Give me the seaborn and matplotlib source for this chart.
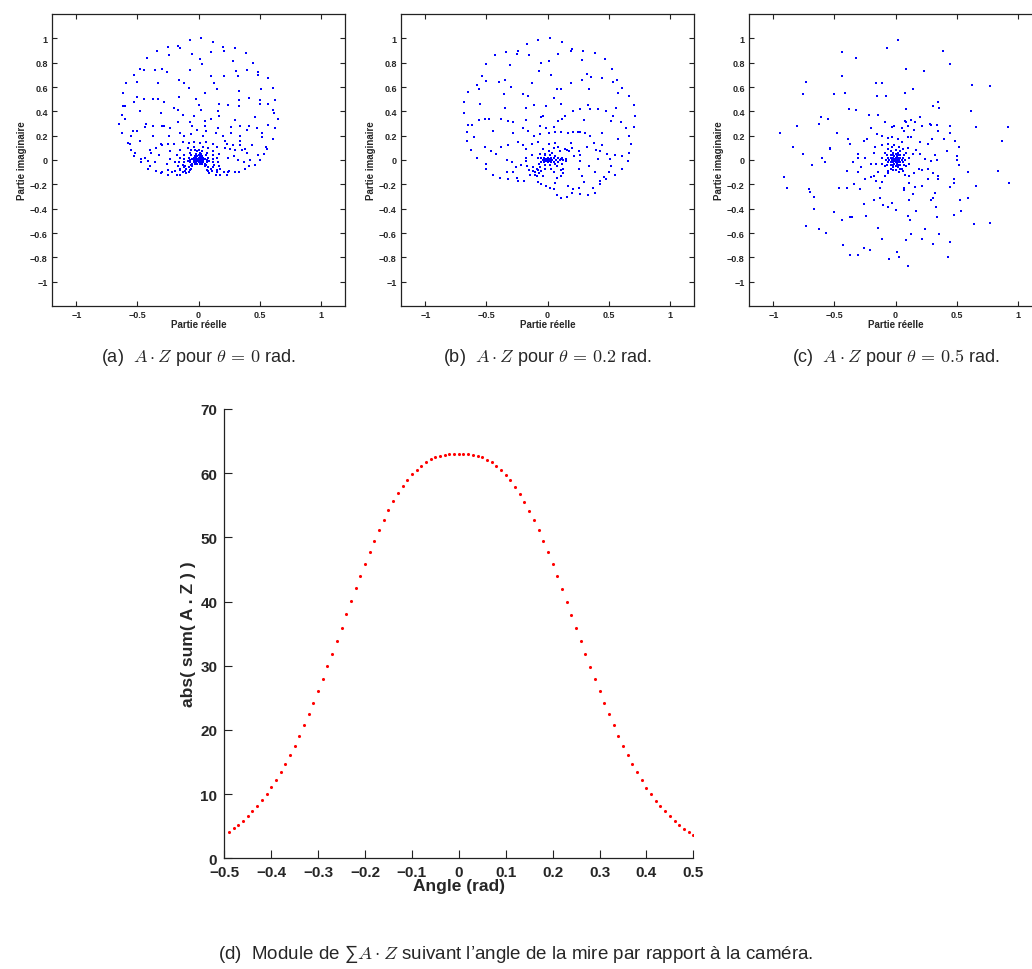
import numpy as np
import matplotlib
matplotlib.use("Agg")
import matplotlib.pyplot as plt
import seaborn as sns

# ── DATA ────────────────────────────────────────────────────
# (a) A.Z for theta = 0 rad  (real, imaginary) read off the picture
points_a = [
    (-0.07, 0.99), (0.02, 1.00), (0.12, 0.97), (-0.25, 0.93), (-0.17, 0.94), (-0.15, 0.92),
    (0.20, 0.93), (0.21, 0.90), (0.30, 0.92), (-0.34, 0.90), (0.10, 0.89), (-0.05, 0.87),
    (0.39, 0.88), (-0.24, 0.86), (-0.42, 0.84), (0.01, 0.83), (0.03, 0.79), (0.28, 0.81),
    (0.45, 0.80), (-0.48, 0.75), (-0.45, 0.74), (-0.36, 0.74), (-0.30, 0.75), (-0.26, 0.72),
    (-0.07, 0.74), (0.31, 0.73), (0.40, 0.74), (0.49, 0.72), (0.49, 0.70), (-0.53, 0.70),
    (0.10, 0.69), (0.21, 0.69), (0.32, 0.69), (0.57, 0.67), (-0.16, 0.66), (-0.12, 0.63),
    (0.13, 0.63), (-0.59, 0.63), (-0.50, 0.64), (-0.33, 0.63), (-0.08, 0.59), (0.15, 0.58),
    (0.51, 0.58), (0.61, 0.59), (0.33, 0.57), (-0.62, 0.55), (0.05, 0.55), (-0.50, 0.52),
    (-0.16, 0.52), (-0.45, 0.50), (-0.37, 0.50), (-0.33, 0.50), (-0.02, 0.50), (0.41, 0.51),
    (0.50, 0.49), (0.63, 0.49), (-0.53, 0.48), (-0.28, 0.48), (0.33, 0.49), (0.17, 0.46),
    (0.24, 0.45), (0.33, 0.44), (0.50, 0.46), (0.57, 0.46), (-0.62, 0.44), (-0.60, 0.44),
    (-0.20, 0.43), (-0.17, 0.41), (0.00, 0.45), (-0.48, 0.40), (0.02, 0.41), (0.16, 0.40),
    (0.61, 0.41), (0.62, 0.39), (-0.31, 0.39), (-0.13, 0.37), (-0.63, 0.37), (-0.04, 0.36),
    (0.17, 0.36), (-0.60, 0.34), (0.10, 0.34), (0.30, 0.33), (0.46, 0.35), (0.65, 0.34),
    (-0.07, 0.31), (0.05, 0.32), (-0.65, 0.30), (-0.43, 0.30), (-0.37, 0.28), (-0.30, 0.28),
    (-0.28, 0.28), (-0.17, 0.31), (-0.05, 0.28), (0.05, 0.28), (0.27, 0.27), (0.34, 0.28),
    (0.41, 0.28), (0.57, 0.29), (-0.44, 0.27), (-0.23, 0.26), (0.16, 0.26), (0.48, 0.26),
    (0.63, 0.26), (-0.63, 0.22), (-0.54, 0.24), (-0.50, 0.24), (-0.37, 0.20), (-0.24, 0.20),
    (-0.15, 0.22), (-0.12, 0.20), (-0.06, 0.21), (-0.01, 0.25), (0.04, 0.20), (0.06, 0.24),
    (0.14, 0.22), (0.20, 0.20), (0.27, 0.22), (0.34, 0.20), (0.40, 0.25), (0.52, 0.22),
    (0.52, 0.19), (0.61, 0.17), (-0.55, 0.20), (-0.48, 0.16), (-0.58, 0.14), (-0.56, 0.13),
    (-0.31, 0.13), (-0.30, 0.12), (-0.25, 0.13), (-0.20, 0.13), (-0.13, 0.15), (-0.08, 0.14),
    (-0.04, 0.15), (0.01, 0.14), (0.06, 0.15), (0.12, 0.13), (0.15, 0.11), (0.22, 0.16),
    (0.23, 0.13), (0.28, 0.12), (0.34, 0.16), (0.34, 0.12), (0.44, 0.12), (0.55, 0.11),
    (0.56, 0.09), (-0.55, 0.08), (-0.40, 0.08), (-0.35, 0.10), (-0.39, 0.06), (-0.32, 0.04),
    (-0.23, 0.07), (-0.15, 0.08), (-0.09, 0.10), (-0.06, 0.08), (0.08, 0.10), (0.12, 0.07),
    (0.17, 0.05), (0.22, 0.10), (0.26, 0.09), (0.30, 0.08), (0.36, 0.08), (0.38, 0.09),
    (0.40, 0.06), (0.49, 0.04), (0.54, 0.05), (-0.52, 0.06), (-0.53, 0.03), (-0.47, -0.02),
    (-0.44, 0.02), (-0.41, -0.01), (-0.36, -0.02), (-0.23, 0.01), (-0.26, -0.03), (-0.18, 0.04),
    (-0.19, -0.02), (0.24, 0.02), (0.29, 0.03), (0.32, 0.00), (0.37, -0.02), (0.42, 0.00),
    (0.50, 0.00), (-0.41, -0.07), (-0.35, -0.09), (-0.30, -0.10), (-0.25, -0.08), (-0.22, -0.10),
    (-0.19, -0.09), (-0.15, -0.07), (-0.11, -0.05), (-0.08, -0.10), (-0.06, -0.07), (0.08, -0.09),
    (0.12, -0.06), (0.15, -0.10), (0.18, -0.07), (0.21, -0.10), (0.25, -0.09), (0.30, -0.10),
    (0.33, -0.10), (0.38, -0.07), (0.41, -0.05), (0.46, -0.04), (-0.31, -0.11), (-0.25, -0.12),
    (-0.18, -0.12), (-0.15, -0.12), (-0.13, -0.10), (-0.10, -0.11), (0.09, -0.11), (0.14, -0.12),
    (0.18, -0.12), (0.23, -0.12), (0.24, -0.10), (-0.40, -0.05), (-0.47, 0.01),
    # heart-shaped lobes and the dense core
    (-0.06, -0.04), (-0.08, -0.06), (-0.10, -0.07), (-0.12, -0.06), (-0.13, -0.04), (-0.12, -0.02),
    (-0.09, -0.01), (-0.07, 0.00), (-0.05, -0.05), (-0.07, -0.08), (-0.11, -0.09), (-0.15, -0.08),
    (-0.17, -0.05), (-0.16, -0.02), (-0.12, 0.01), (-0.08, 0.02), (0.06, -0.04), (0.08, -0.06),
    (0.10, -0.07), (0.12, -0.06), (0.13, -0.04), (0.12, -0.02), (0.09, -0.01), (0.07, 0.00),
    (0.05, -0.05), (0.07, -0.08), (0.11, -0.09), (0.15, -0.08), (0.17, -0.05), (0.16, -0.02),
    (0.12, 0.01), (0.08, 0.02), (-0.07, 0.06), (0.07, 0.06), (-0.12, 0.04), (0.12, 0.04),
    (-0.04, 0.11), (0.04, 0.11), (-0.15, 0.02), (0.15, 0.02),
    (0.00, 0.00), (0.01, 0.01), (-0.01, 0.01), (0.01, -0.01), (-0.01, -0.01), (0.02, 0.00),
    (-0.02, 0.00), (0.00, 0.02), (0.00, -0.02), (0.02, 0.02), (-0.02, 0.02), (0.02, -0.02),
    (-0.02, -0.02), (0.03, 0.01), (-0.03, 0.01), (0.03, -0.01), (-0.03, -0.01), (0.01, 0.03),
    (-0.01, 0.03), (0.01, -0.03), (-0.01, -0.03), (0.04, 0.00), (-0.04, 0.00), (0.00, 0.04),
    (0.03, 0.03), (-0.03, 0.03), (0.03, -0.03), (-0.03, -0.03), (0.04, 0.02), (-0.04, 0.02),
    (0.04, -0.02), (-0.04, -0.02), (0.05, 0.01), (-0.05, 0.01), (0.02, 0.05), (-0.02, 0.05),
    (0.05, -0.03), (-0.05, -0.03), (0.01, 0.06), (-0.01, 0.07), (0.06, 0.04), (-0.06, 0.04),
    (0.07, -0.02), (-0.07, -0.02), (0.00, 0.08), (0.03, 0.07), (-0.03, 0.08),
]

# (b) A.Z for theta = 0.2 rad
points_b = [
    (-0.08, 0.99), (0.02, 1.00), (0.12, 0.97), (-0.17, 0.95), (-0.34, 0.89), (-0.24, 0.90),
    (-0.25, 0.87), (-0.15, 0.86), (-0.43, 0.86), (0.09, 0.87), (0.19, 0.90), (0.20, 0.91),
    (0.29, 0.90), (0.39, 0.88), (-0.50, 0.79), (-0.31, 0.78), (-0.05, 0.80), (0.01, 0.81),
    (0.28, 0.82), (0.47, 0.83), (0.53, 0.75), (-0.54, 0.69), (-0.50, 0.65), (-0.40, 0.64),
    (-0.35, 0.66), (-0.07, 0.73), (0.03, 0.70), (0.28, 0.66), (0.32, 0.71), (0.36, 0.68),
    (0.45, 0.67), (0.54, 0.64), (0.57, 0.66), (-0.58, 0.62), (-0.30, 0.60), (-0.13, 0.63),
    (0.19, 0.63), (0.61, 0.59), (-0.65, 0.56), (-0.56, 0.58), (0.08, 0.58), (0.11, 0.58),
    (0.34, 0.58), (0.58, 0.55), (-0.36, 0.54), (-0.20, 0.54), (-0.16, 0.53), (0.05, 0.51),
    (0.67, 0.53), (-0.68, 0.48), (-0.55, 0.46), (-0.11, 0.45), (0.11, 0.46), (0.33, 0.45),
    (0.56, 0.43), (0.71, 0.45), (-0.35, 0.43), (-0.18, 0.43), (-0.01, 0.44), (0.21, 0.40),
    (0.27, 0.42), (0.35, 0.42), (0.41, 0.42), (0.48, 0.40), (-0.68, 0.39), (0.72, 0.36),
    (-0.56, 0.33), (-0.51, 0.34), (-0.48, 0.34), (-0.38, 0.34), (-0.32, 0.32), (-0.28, 0.31),
    (-0.18, 0.33), (-0.05, 0.35), (-0.04, 0.36), (0.09, 0.32), (0.12, 0.34), (0.14, 0.36),
    (0.30, 0.33), (0.52, 0.32), (0.54, 0.36), (0.60, 0.31), (-0.65, 0.29), (-0.62, 0.29),
    (-0.20, 0.26), (-0.06, 0.28), (-0.01, 0.26), (0.05, 0.27), (0.71, 0.27), (0.64, 0.26),
    (-0.66, 0.23), (-0.60, 0.19), (-0.45, 0.24), (-0.28, 0.22), (-0.16, 0.24), (-0.11, 0.20),
    (-0.06, 0.21), (0.01, 0.22), (0.06, 0.23), (0.11, 0.23), (0.17, 0.22), (0.21, 0.23),
    (0.25, 0.23), (0.27, 0.23), (0.31, 0.22), (0.35, 0.20), (0.45, 0.22), (0.58, 0.17),
    (0.67, 0.20), (0.68, 0.13), (0.67, 0.06), (0.66, -0.01), (0.61, -0.07), (0.55, -0.12),
    (0.48, -0.16), (0.43, -0.20), (0.39, -0.27), (0.33, -0.29), (0.27, -0.28), (0.20, -0.27),
    (0.16, -0.30), (0.11, -0.31), (0.08, -0.29), (0.05, -0.24), (0.02, -0.23), (-0.01, -0.21),
    (-0.05, -0.20), (-0.08, -0.18), (-0.66, 0.16), (-0.63, 0.08), (-0.58, 0.02), (-0.50, -0.03),
    (-0.50, -0.07), (-0.45, -0.12), (-0.39, -0.15), (-0.32, -0.16), (-0.24, -0.17), (-0.19, -0.17),
    (-0.51, 0.11), (-0.46, 0.07), (-0.42, 0.05), (-0.33, 0.00), (-0.29, -0.02), (-0.26, -0.06),
    (-0.22, -0.04), (-0.33, -0.10), (-0.28, -0.10), (-0.25, -0.15), (-0.38, 0.11), (-0.32, 0.12),
    (-0.24, 0.15), (-0.20, 0.12), (-0.18, 0.09), (-0.13, 0.13), (-0.08, 0.15), (-0.04, 0.09),
    (0.01, 0.13), (0.06, 0.14), (0.09, 0.11), (0.14, 0.09), (0.19, 0.14), (0.20, 0.10),
    (0.26, 0.07), (0.27, 0.04), (0.32, 0.11), (0.38, 0.14), (0.40, 0.08), (0.43, 0.07),
    (0.45, 0.12), (0.49, 0.05), (0.51, 0.01), (0.52, -0.05), (0.50, -0.10), (0.46, -0.14),
    (0.43, -0.17), (0.37, -0.23), (0.30, -0.18), (0.28, -0.13), (0.26, -0.07), (0.27, -0.01),
    (0.22, 0.03), (0.18, 0.07), (0.16, 0.08), (0.10, 0.07), (0.05, 0.10), (0.01, 0.07),
    (-0.02, 0.05), (-0.13, 0.04), (-0.18, 0.02), (-0.18, -0.01), (-0.17, -0.05), (-0.09, -0.07),
    (0.11, 0.01), (0.15, -0.01), (0.13, -0.07), (0.11, -0.13), (0.08, -0.15), (0.06, -0.19),
    (0.17, -0.21), (0.21, -0.24), (0.26, -0.23), (0.34, -0.05), (0.39, -0.10), (0.41, 0.01),
    (0.61, 0.03), (0.55, 0.04),
    # dense core with its loop
    (0.00, 0.00), (0.01, 0.01), (-0.01, 0.01), (0.01, -0.01), (-0.01, -0.01), (0.02, 0.00),
    (-0.02, 0.00), (0.00, 0.02), (0.00, -0.02), (0.03, 0.02), (-0.03, 0.02), (0.03, -0.02),
    (-0.03, -0.02), (0.04, 0.00), (-0.04, 0.00), (0.02, 0.04), (-0.02, 0.04), (0.02, -0.04),
    (-0.02, -0.04), (0.05, 0.02), (-0.05, 0.02), (0.05, -0.02), (-0.05, -0.02), (0.06, 0.03),
    (0.07, 0.00), (0.06, -0.03), (0.09, 0.02), (0.10, 0.00), (0.09, -0.02), (0.12, 0.02),
    (0.13, 0.00), (0.12, -0.03), (0.15, 0.01), (-0.06, -0.06), (-0.08, -0.08), (-0.10, -0.10),
    (-0.12, -0.09), (-0.10, -0.12), (-0.07, -0.11), (-0.12, -0.06), (-0.09, -0.13), (-0.05, -0.09),
    (-0.04, -0.13), (-0.02, -0.07), (0.03, -0.07), (0.05, -0.10), (0.08, -0.05), (0.11, -0.08),
    (0.13, -0.11), (-0.15, -0.08), (-0.14, -0.12), (-0.06, 0.05), (0.04, 0.06), (-0.08, 0.02),
    (-0.07, -0.03),
]

# (c) A.Z for theta = 0.5 rad
points_c = [
    (0.02, 0.99), (-0.07, 0.92), (-0.44, 0.89), (-0.32, 0.84), (0.39, 0.90), (0.45, 0.79),
    (0.09, 0.75), (0.23, 0.73), (-0.44, 0.69), (-0.73, 0.64), (-0.16, 0.63), (-0.11, 0.63),
    (0.63, 0.62), (0.77, 0.61), (-0.76, 0.54), (-0.50, 0.54), (-0.41, 0.55), (-0.15, 0.53),
    (-0.08, 0.53), (0.08, 0.55), (0.14, 0.58), (0.35, 0.48), (0.31, 0.44), (0.36, 0.43),
    (-0.38, 0.42), (-0.32, 0.41), (0.09, 0.42), (0.62, 0.40), (-0.61, 0.35), (-0.55, 0.34),
    (-0.63, 0.30), (-0.22, 0.37), (-0.14, 0.37), (0.08, 0.32), (0.09, 0.31), (0.13, 0.33),
    (0.16, 0.31), (0.20, 0.35), (0.28, 0.30), (0.29, 0.29), (0.34, 0.29), (0.45, 0.28),
    (-0.81, 0.28), (-0.95, 0.22), (-0.48, 0.22), (-0.20, 0.26), (-0.09, 0.31), (-0.03, 0.27),
    (-0.01, 0.28), (0.05, 0.26), (0.10, 0.28), (0.15, 0.25), (0.22, 0.28), (0.35, 0.24),
    (0.45, 0.22), (0.66, 0.27), (0.92, 0.27), (-0.39, 0.17), (-0.37, 0.13), (-0.26, 0.16),
    (-0.23, 0.17), (-0.15, 0.21), (-0.11, 0.20), (-0.06, 0.18), (-0.03, 0.19), (0.02, 0.17),
    (0.07, 0.24), (0.10, 0.19), (0.13, 0.19), (0.20, 0.15), (0.27, 0.13), (0.30, 0.17),
    (0.40, 0.17), (0.49, 0.16), (0.52, 0.11), (0.87, 0.16), (-0.84, 0.11), (-0.54, 0.10),
    (-0.76, 0.05), (-0.68, -0.04), (-0.60, 0.02), (-0.58, -0.02), (-0.54, 0.09), (-0.91, -0.14),
    (-0.89, -0.23), (-0.71, -0.24), (-0.70, -0.26), (-0.67, -0.30), (-0.67, -0.40), (-0.73, -0.54),
    (-0.63, -0.57), (-0.57, -0.60), (-0.43, -0.70), (-0.37, -0.78), (-0.31, -0.78), (-0.26, -0.72),
    (-0.21, -0.74), (-0.50, -0.43), (-0.44, -0.49), (-0.37, -0.47), (-0.36, -0.47), (-0.24, -0.46),
    (-0.26, -0.36), (-0.18, -0.33), (-0.13, -0.31), (-0.14, -0.56), (-0.11, -0.65), (-0.05, -0.81),
    (0.01, -0.76), (0.03, -0.80), (0.10, -0.87), (0.09, -0.66), (0.13, -0.61), (0.22, -0.65),
    (0.24, -0.57), (0.31, -0.69), (0.36, -0.61), (0.10, -0.46), (0.12, -0.49), (0.17, -0.42),
    (0.33, -0.39), (0.34, -0.47), (0.48, -0.45), (0.54, -0.42), (0.45, -0.67), (0.43, -0.80),
    (0.64, -0.53), (0.77, -0.52), (0.53, -0.33), (0.59, -0.31), (0.29, -0.33), (0.31, -0.31),
    (0.32, -0.27), (0.14, -0.28), (0.11, -0.33), (0.00, -0.41), (-0.03, -0.35), (-0.10, -0.37),
    (-0.06, -0.39), (-0.13, -0.23), (-0.11, -0.18), (-0.16, -0.17), (-0.18, -0.13), (-0.20, -0.14),
    (-0.25, -0.16), (-0.29, -0.24), (-0.34, -0.20), (-0.40, -0.09), (-0.31, -0.10), (-0.28, -0.06),
    (-0.35, -0.02), (-0.31, 0.02), (-0.25, 0.02), (-0.20, -0.03), (-0.16, -0.03), (-0.40, -0.23),
    (-0.46, -0.23), (0.07, -0.23), (0.07, -0.25), (0.11, -0.19), (0.16, -0.22), (0.22, -0.21),
    (0.27, -0.16), (0.35, -0.13), (0.35, -0.16), (0.45, -0.22), (0.48, -0.19), (0.48, -0.16),
    (0.52, -0.04), (0.50, 0.00), (0.42, 0.07), (0.50, 0.03), (0.59, -0.10), (0.66, -0.21),
    (0.84, -0.09), (0.93, -0.19),
    # halo around the core
    (-0.31, 0.05), (-0.18, 0.06), (-0.17, 0.11), (-0.11, 0.12), (-0.06, 0.13), (-0.01, 0.12),
    (0.05, 0.15), (0.10, 0.10), (0.14, 0.05), (0.17, 0.08), (0.20, 0.05), (0.24, 0.01),
    (0.29, -0.01), (0.32, 0.04), (0.34, 0.00), (-0.14, -0.10), (-0.09, -0.13), (-0.06, -0.11),
    (-0.02, -0.08), (0.03, -0.10), (0.05, -0.07), (0.08, -0.12), (0.11, -0.13), (0.15, -0.11),
    (0.19, -0.07), (0.22, -0.08), (0.27, -0.07), (0.31, -0.11),
    # dense core
    (0.00, 0.00), (0.01, 0.01), (-0.01, 0.01), (0.01, -0.01), (-0.01, -0.01), (0.02, 0.00),
    (-0.02, 0.00), (0.00, 0.02), (0.00, -0.02), (0.02, 0.02), (-0.02, 0.02), (0.02, -0.02),
    (-0.02, -0.02), (0.03, 0.01), (-0.03, 0.01), (0.03, -0.01), (-0.03, -0.01), (0.01, 0.03),
    (-0.01, 0.03), (0.01, -0.03), (-0.01, -0.03), (0.04, 0.02), (-0.04, 0.02), (0.04, -0.02),
    (-0.04, -0.02), (0.02, 0.04), (-0.02, 0.04), (0.02, -0.04), (-0.02, -0.04), (0.05, 0.00),
    (-0.05, 0.00), (0.00, 0.05), (0.00, -0.05), (0.04, 0.04), (-0.04, 0.04), (0.04, -0.04),
    (-0.04, -0.04), (0.06, 0.02), (-0.06, 0.02), (0.06, -0.02), (-0.06, -0.02), (0.02, 0.06),
    (-0.02, 0.06), (0.02, -0.06), (-0.02, -0.06), (0.07, 0.04), (-0.07, 0.04), (0.07, -0.04),
    (-0.07, -0.04), (0.04, 0.07), (-0.04, 0.07), (0.04, -0.07), (-0.04, -0.07), (0.08, 0.00),
    (-0.08, 0.00), (0.00, 0.08), (0.00, -0.08), (0.09, 0.06), (-0.09, 0.06), (0.09, -0.05),
    (-0.09, -0.05), (0.06, 0.09), (-0.06, 0.09), (0.06, -0.09), (-0.06, -0.09), (0.11, 0.02),
    (-0.11, 0.02), (0.11, -0.03), (-0.11, -0.03), (0.03, 0.11), (-0.03, 0.11),
]

# (d) |sum A.Z| against the angle of the target
angles = [
    -0.49, -0.48, -0.47, -0.46, -0.45, -0.44, -0.43, -0.42, -0.41, -0.40,
    -0.39, -0.38, -0.37, -0.36, -0.35, -0.34, -0.33, -0.32, -0.31, -0.30,
    -0.29, -0.28, -0.27, -0.26, -0.25, -0.24, -0.23, -0.22, -0.21, -0.20,
    -0.19, -0.18, -0.17, -0.16, -0.15, -0.14, -0.13, -0.12, -0.11, -0.10,
    -0.09, -0.08, -0.07, -0.06, -0.05, -0.04, -0.03, -0.02, -0.01, 0.00,
    0.01, 0.02, 0.03, 0.04, 0.05, 0.06, 0.07, 0.08, 0.09, 0.10,
    0.11, 0.12, 0.13, 0.14, 0.15, 0.16, 0.17, 0.18, 0.19, 0.20,
    0.21, 0.22, 0.23, 0.24, 0.25, 0.26, 0.27, 0.28, 0.29, 0.30,
    0.31, 0.32, 0.33, 0.34, 0.35, 0.36, 0.37, 0.38, 0.39, 0.40,
    0.41, 0.42, 0.43, 0.44, 0.45, 0.46, 0.47, 0.48, 0.49, 0.50,
]
modules = [
    4.15, 4.67, 5.24, 5.87, 6.59, 7.37, 8.20, 9.03, 9.97, 11.06,
    12.25, 13.45, 14.75, 16.10, 17.55, 19.10, 20.77, 22.48, 24.25, 26.06,
    27.93, 29.90, 31.88, 33.90, 35.93, 38.00, 40.03, 42.06, 43.98, 45.90,
    47.72, 49.48, 51.19, 52.75, 54.20, 55.60, 56.85, 57.94, 58.93, 59.81,
    60.54, 61.16, 61.73, 62.15, 62.46, 62.72, 62.88, 62.93, 62.95, 62.96,
    62.95, 62.92, 62.86, 62.70, 62.45, 62.13, 61.71, 61.14, 60.52, 59.78,
    58.90, 57.91, 56.82, 55.57, 54.17, 52.72, 51.15, 49.45, 47.69, 45.86,
    43.95, 42.02, 39.99, 37.96, 35.89, 33.86, 31.84, 29.86, 27.89, 26.02,
    24.21, 22.44, 20.73, 19.06, 17.51, 16.06, 14.71, 13.41, 12.21, 11.02,
    9.94, 8.99, 8.16, 7.33, 6.55, 5.83, 5.20, 4.63, 4.12, 3.60,
]

small_xticks = [-1, -0.5, 0, 0.5, 1]
small_xlabels = ["\u22121", "\u22120.5", "0", "0.5", "1"]
small_yticks = [1, 0.8, 0.6, 0.4, 0.2, 0, -0.2, -0.4, -0.6, -0.8, -1]
small_ylabels = ["1", "0.8", "0.6", "0.4", "0.2", "0", "\u22120.2", "\u22120.4",
                 "\u22120.6", "\u22120.8", "\u22121"]
big_xticks = [-0.5, -0.4, -0.3, -0.2, -0.1, 0, 0.1, 0.2, 0.3, 0.4, 0.5]
big_xlabels = ["\u22120.5", "\u22120.4", "\u22120.3", "\u22120.2", "\u22120.1", "0",
               "0.1", "0.2", "0.3", "0.4", "0.5"]
big_yticks = [0, 10, 20, 30, 40, 50, 60, 70]

captions = [
    r"(a)  $A \cdot Z$ pour $\theta \,=\, 0$ rad.",
    r"(b)  $A \cdot Z$ pour $\theta \,=\, 0.2$ rad.",
    r"(c)  $A \cdot Z$ pour $\theta \,=\, 0.5$ rad.",
]
caption_d = "(d)  Module de \u2211" + r"$A \cdot Z$" + " suivant l\u2019angle de la mire par rapport à la caméra."

# ── STYLE ───────────────────────────────────────────────────
sns.set_theme(style="ticks")
plt.rcParams["font.family"] = ["Liberation Sans", "DejaVu Sans"]
plt.rcParams["mathtext.fontset"] = "cm"

fig = plt.figure(figsize=(10.32, 9.70), dpi=100)

# ── TOP ROW: three scatter panels ───────────────────────────
lefts = [52, 401, 749]
for left, pts, cap in zip(lefts, [points_a, points_b, points_c], captions):
    ax = fig.add_axes([left / 1032, 1 - 307 / 970, 293 / 1032, 292 / 970])
    re = [p[0] for p in pts]
    im = [p[1] for p in pts]
    sns.scatterplot(x=re, y=im, ax=ax, color="#0000ff", s=3, marker="s",
                    linewidth=0, legend=False)
    ax.set_xlim(-1.2, 1.2)
    ax.set_ylim(-1.2, 1.2)
    ax.set_xticks(small_xticks)
    ax.set_xticklabels(small_xlabels)
    ax.set_yticks(small_yticks)
    ax.set_yticklabels(small_ylabels)
    ax.tick_params(direction="in", top=True, right=True, length=3.5, width=0.8,
                   labelsize=6.5, pad=3, color="#222222")
    for t in ax.get_xticklabels() + ax.get_yticklabels():
        t.set_fontweight("bold")
    ax.set_xlabel("Partie réelle", fontsize=7, fontweight="bold", labelpad=0)
    ax.set_ylabel("Partie imaginaire", fontsize=7, fontweight="bold", labelpad=2)
    for s in ax.spines.values():
        s.set_linewidth(0.9)
        s.set_color("#222222")
    fig.text((left + 146.5) / 1032, 1 - 358 / 970, cap, ha="center", va="center",
             fontsize=13)

# ── BOTTOM: module of the sum ───────────────────────────────
axd = fig.add_axes([224.3 / 1032, 1 - 859.3 / 970, 469 / 1032, 449.3 / 970])
sns.scatterplot(x=angles, y=modules, ax=axd, color="#ff0000", s=5, marker="o",
                linewidth=0, legend=False)
axd.set_xlim(-0.5, 0.5)
axd.set_ylim(0, 70)
axd.set_xticks(big_xticks)
axd.set_xticklabels(big_xlabels)
axd.set_yticks(big_yticks)
axd.tick_params(direction="in", length=6, width=0.8, labelsize=11, color="#222222")
axd.tick_params(axis="x", pad=5)
axd.tick_params(axis="y", pad=5)
for t in axd.get_xticklabels() + axd.get_yticklabels():
    t.set_fontweight("bold")
axd.spines["top"].set_visible(False)
axd.spines["right"].set_visible(False)
for s in ["left", "bottom"]:
    axd.spines[s].set_linewidth(0.9)
    axd.spines[s].set_color("#222222")
axd.set_xlabel("Angle (rad)", fontsize=12.5, fontweight="bold", labelpad=-1)
axd.set_ylabel("abs( sum( A . Z ) )", fontsize=12.5, fontweight="bold", labelpad=3)

fig.text(516 / 1032, 1 - 954 / 970, caption_d, ha="center", va="center", fontsize=13.5)

plt.savefig("out.png", dpi=100)
plt.close()
